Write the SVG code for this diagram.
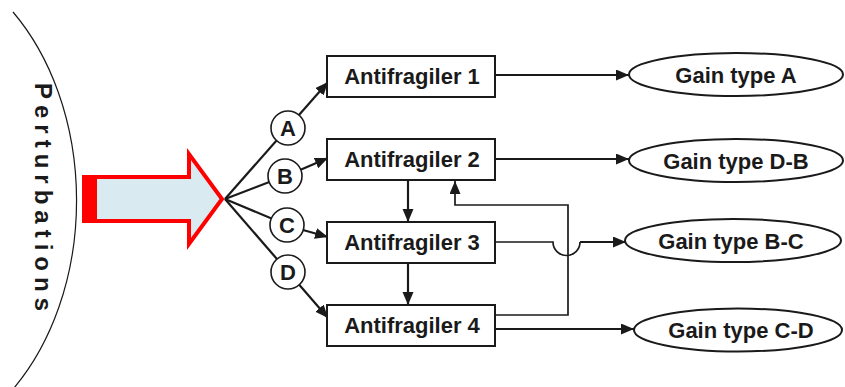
<svg xmlns="http://www.w3.org/2000/svg" width="845" height="387" viewBox="0 0 845 387">
  <style>
    .box { fill: #ffffff; stroke: #1a1a1a; stroke-width: 2; }
    .ell { fill: #ffffff; stroke: #1a1a1a; stroke-width: 2; }
    .circ { fill: #ffffff; stroke: #1a1a1a; stroke-width: 1.6; }
    .lbl { font-family: "Liberation Sans", Arial, sans-serif; font-weight: bold; font-size: 22px; fill: #1a1a1a; text-anchor: middle; }
    .clbl { font-family: "Liberation Sans", Arial, sans-serif; font-weight: bold; font-size: 22px; fill: #1a1a1a; text-anchor: middle; }
    .con { fill: none; stroke: #1a1a1a; stroke-width: 2.2; }
    .thin { fill: none; stroke: #1a1a1a; stroke-width: 1.7; }
  </style>
  <defs>
    <marker id="ah" markerUnits="userSpaceOnUse" markerWidth="15" markerHeight="12" refX="13" refY="5.5" orient="auto">
      <path d="M0,0 L13,5.5 L0,11 z" fill="#1a1a1a"/>
    </marker>
  </defs>

  <!-- Perturbations arc -->
  <g id="perturbations">
    <path d="M13,12 A185 250 0 0 1 14,388" fill="none" stroke="#1a1a1a" stroke-width="1.2"/>
    <text transform="translate(35,83) rotate(90)" font-family="Liberation Sans, Arial, sans-serif" font-weight="bold" font-size="24" letter-spacing="6" fill="#1a1a1a">Perturbations</text>
  </g>

  <!-- Big arrow -->
  <g id="big-arrow">
    <polygon points="84,177 189,177 189,154 222,199 189,244 189,221 84,221" fill="#daeaf1" stroke="#ff0000" stroke-width="4" stroke-linejoin="miter"/>
    <rect x="82" y="175" width="15" height="48" fill="#ff0000"/>
  </g>

  <!-- Connectors -->
  <g id="connectors">
    <path class="con" d="M225,199 L328,82" marker-end="url(#ah)"/>
    <path class="con" d="M225,199 L285,176"/>
    <path class="con" d="M300,170 L328,158" marker-end="url(#ah)"/>
    <path class="con" d="M225,199 L287,225"/>
    <path class="con" d="M303,230 L328,237" marker-end="url(#ah)"/>
    <path class="con" d="M225,199 L328,318" marker-end="url(#ah)"/>

    <path class="con" d="M408,180 L408,222" marker-end="url(#ah)"/>
    <path class="con" d="M408,263 L408,305" marker-end="url(#ah)"/>

    <path class="con" d="M495,75 L629,75" marker-end="url(#ah)"/>
    <path class="con" d="M495,159 L629,159" marker-end="url(#ah)"/>
    <path class="thin" d="M495,242 L553,242 A13.5 13.5 0 0 0 580,242"/>
    <path class="con" d="M580,242 L626,242" marker-end="url(#ah)"/>
    <path class="thin" d="M495,315 L568,315 L568,205 L455,205 L455,181" marker-end="url(#ah)"/>
    <path class="con" d="M495,329 L634,329" marker-end="url(#ah)"/>
  </g>

  <!-- Circles -->
  <g id="circle-A"><circle class="circ" cx="288" cy="128" r="17"/><text class="clbl" x="288" y="136">A</text></g>
  <g id="circle-B"><circle class="circ" cx="285" cy="176" r="17"/><text class="clbl" x="285" y="184">B</text></g>
  <g id="circle-C"><circle class="circ" cx="287" cy="225" r="17"/><text class="clbl" x="287" y="233">C</text></g>
  <g id="circle-D"><circle class="circ" cx="288" cy="272" r="17"/><text class="clbl" x="288" y="280">D</text></g>

  <!-- Antifragiler boxes -->
  <g id="antifragiler-1"><rect class="box" x="327" y="56" width="168" height="41"/><text class="lbl" x="412" y="84">Antifragiler 1</text></g>
  <g id="antifragiler-2"><rect class="box" x="327" y="139" width="168" height="41"/><text class="lbl" x="412" y="167">Antifragiler 2</text></g>
  <g id="antifragiler-3"><rect class="box" x="327" y="222" width="168" height="41"/><text class="lbl" x="412" y="250">Antifragiler 3</text></g>
  <g id="antifragiler-4"><rect class="box" x="327" y="305" width="168" height="41"/><text class="lbl" x="412" y="333">Antifragiler 4</text></g>

  <!-- Gain ellipses -->
  <g id="gain-A"><ellipse class="ell" cx="736" cy="74.5" rx="107" ry="21.5"/><text class="lbl" x="736" y="82.5">Gain type A</text></g>
  <g id="gain-DB"><ellipse class="ell" cx="736" cy="160.5" rx="107" ry="21.5"/><text class="lbl" x="736" y="168.5">Gain type D-B</text></g>
  <g id="gain-BC"><ellipse class="ell" cx="733" cy="240.5" rx="108" ry="21.5"/><text class="lbl" x="731" y="248.5">Gain type B-C</text></g>
  <g id="gain-CD"><ellipse class="ell" cx="738" cy="330" rx="104" ry="21.5"/><text class="lbl" x="741" y="338">Gain type C-D</text></g>
</svg>
